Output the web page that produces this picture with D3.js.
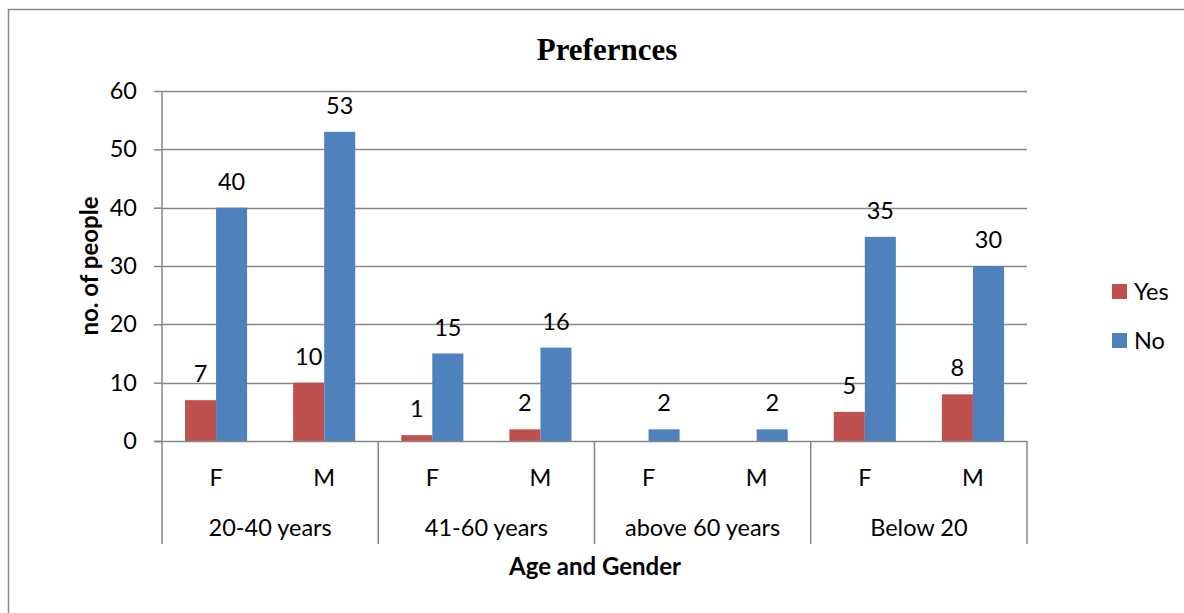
<!DOCTYPE html>
<html>
<head>
<meta charset="utf-8">
<script src="https://cdn.jsdelivr.net/npm/d3@7"></script>
<style>
  html, body { margin: 0; padding: 0; background: #fff; }
  svg { display: block; }
  text { font-family: Lato, "Open Sans", sans-serif; fill: #000; }
</style>
</head>
<body>
<svg id="chart" width="1184" height="613"></svg>
<script>
// Age groups, each split by gender
const groups = ["20-40 years", "41-60 years", "above 60 years", "Below 20"];
const genders = ["F", "M"];
const seriesNames = ["Yes", "No"];
// values per (group, gender), in the order of groups × genders; null = no entry
const yesValues = [7, 10, 1, 2, null, null, 5, 8];
const noValues  = [40, 53, 15, 16, 2, 2, 35, 30];
const yTicks = [0, 10, 20, 30, 40, 50, 60];
const colors = { Yes: "#C0504D", No: "#4F81BD" };

const svg = d3.select("#chart");
const W = 1184, H = 613;
const plot = { left: 162, right: 1027, top: 91, bottom: 441 };
const catBottom = 544;
const axisColor = "#878787";
const labelSize = "23.5px";

// outer chart frame
svg.append("rect")
  .attr("x", 8.5).attr("y", 9.5)
  .attr("width", W + 10).attr("height", H + 10)
  .attr("fill", "none").attr("stroke", axisColor).attr("stroke-width", 1.5);

// category keys
const cats = [];
groups.forEach((g, gi) => genders.forEach((s, si) => cats.push({ key: g + "|" + s, group: g, gender: s, i: gi * 2 + si })));

const x0 = d3.scaleBand()
  .domain(cats.map(d => d.key))
  .range([plot.left, plot.right])
  .paddingInner(0.426)
  .paddingOuter(0.213);
const x1 = d3.scaleBand().domain(seriesNames).range([0, x0.bandwidth()]);
const y = d3.scaleLinear().domain([0, 60]).range([plot.bottom, plot.top]);

// gridlines
svg.append("g")
  .selectAll("line").data(yTicks.filter(t => t > 0)).join("line")
  .attr("x1", plot.left).attr("x2", plot.right)
  .attr("y1", d => Math.round(y(d)) + 0.5).attr("y2", d => Math.round(y(d)) + 0.5)
  .attr("stroke", axisColor).attr("stroke-width", 1.5);

// y axis
const yAxis = svg.append("g")
  .attr("transform", `translate(${plot.left},0)`)
  .call(d3.axisLeft(y).tickValues(yTicks).tickSize(8).tickPadding(17).tickSizeOuter(0));
yAxis.select(".domain").remove();
yAxis.selectAll(".tick line").attr("stroke", axisColor).attr("stroke-width", 1.5);
yAxis.selectAll(".tick text").style("font-size", labelSize).style("font-family", "Lato, sans-serif").attr("fill", "#000");
svg.append("line")
  .attr("x1", plot.left).attr("x2", plot.left)
  .attr("y1", plot.top).attr("y2", catBottom)
  .attr("stroke", axisColor).attr("stroke-width", 1.5);

// bars
const rows = cats.map(c => ({ ...c, Yes: yesValues[c.i], No: noValues[c.i] }));
const barG = svg.append("g");
seriesNames.forEach(name => {
  const data = rows.filter(r => r[name] != null);
  barG.selectAll(null).data(data).join("rect")
    .attr("x", d => x0(d.key) + x1(name))
    .attr("y", d => y(d[name]))
    .attr("width", x1.bandwidth())
    .attr("height", d => y(0) - y(d[name]))
    .attr("fill", colors[name]);
  barG.selectAll(null).data(data).join("text")
    .attr("x", d => x0(d.key) + x1(name) + x1.bandwidth() / 2)
    .attr("y", d => y(d[name]) - 18)
    .attr("text-anchor", "middle")
    .style("font-size", labelSize)
    .text(d => d[name]);
});

// x axis baseline
svg.append("line")
  .attr("x1", plot.left - 8).attr("x2", plot.right)
  .attr("y1", plot.bottom + 0.5).attr("y2", plot.bottom + 0.5)
  .attr("stroke", axisColor).attr("stroke-width", 1.5);

// gender labels
svg.append("g").selectAll("text").data(cats).join("text")
  .attr("x", d => x0(d.key) + x0.bandwidth() / 2)
  .attr("y", 486)
  .attr("text-anchor", "middle")
  .style("font-size", labelSize)
  .text(d => d.gender);

// group separators and labels
const groupScale = d3.scaleBand().domain(groups).range([plot.left, plot.right]);
svg.append("g").selectAll("line").data(groups.slice(1).concat(["end"])).join("line")
  .attr("x1", (d, i) => i < groups.length - 1 ? groupScale(d) : plot.right)
  .attr("x2", (d, i) => i < groups.length - 1 ? groupScale(d) : plot.right)
  .attr("y1", plot.bottom).attr("y2", catBottom)
  .attr("stroke", axisColor).attr("stroke-width", 1.5);
svg.append("g").selectAll("text").data(groups).join("text")
  .attr("x", d => groupScale(d) + groupScale.bandwidth() / 2)
  .attr("y", 536)
  .attr("text-anchor", "middle")
  .style("font-size", labelSize)
  .text(d => d);

// titles
svg.append("text")
  .attr("x", 607).attr("y", 60)
  .attr("text-anchor", "middle")
  .style("font-family", "'Liberation Serif', serif")
  .style("font-weight", "bold")
  .style("font-size", "31px")
  .text("Prefernces");

svg.append("text")
  .attr("transform", `translate(98,${(plot.top + plot.bottom) / 2}) rotate(-90)`)
  .attr("text-anchor", "middle")
  .style("font-weight", "bold")
  .style("font-size", "24px")
  .text("no. of people");

svg.append("text")
  .attr("x", 595).attr("y", 575)
  .attr("text-anchor", "middle")
  .style("font-weight", "bold")
  .style("font-size", "24px")
  .text("Age and Gender");

// legend
const legend = svg.append("g").attr("transform", "translate(1112,284)");
seriesNames.forEach((name, i) => {
  const g = legend.append("g").attr("transform", `translate(0,${i * 49})`);
  g.append("rect").attr("width", 15).attr("height", 15).attr("fill", colors[name]);
  g.append("text").attr("x", 22).attr("y", 16).style("font-size", labelSize).text(name);
});
</script>
</body>
</html>
